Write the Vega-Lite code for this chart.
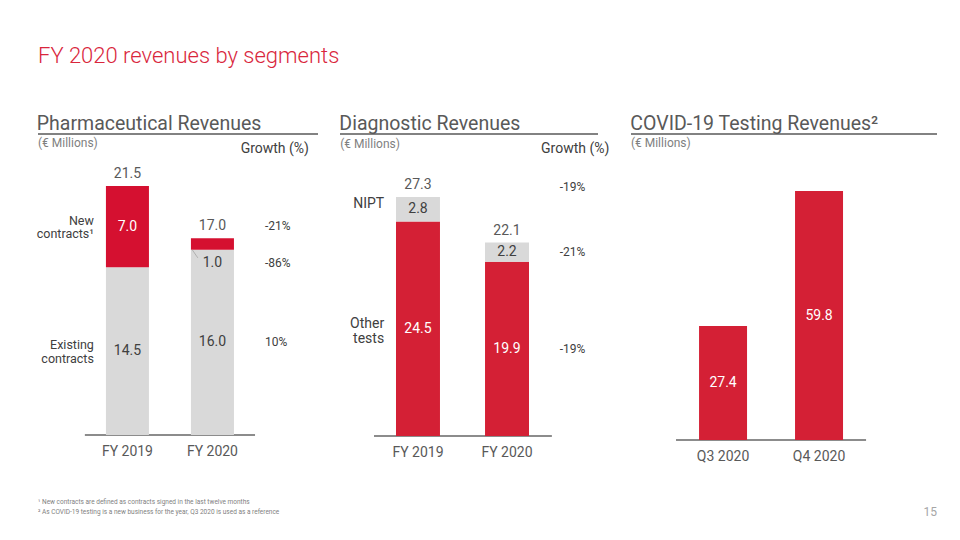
{
  "$schema": "https://vega.github.io/schema/vega-lite/v6.json",
  "background": "white",
  "padding": {"left": 36, "top": 45, "right": 0, "bottom": 0},
  "config": {
    "font": "Roboto",
    "view": {"stroke": null},
    "text": {"font": "Roboto"},
    "title": {"font": "Roboto", "anchor": "start", "fontWeight": "normal", "fontSize": 19.5, "color": "#595959", "offset": -1.5}
  },
  "title": {"text": "FY 2020 revenues by segments", "anchor": "start", "fontSize": 22, "fontWeight": 300, "color": "#d9263c", "offset": 46, "frame": "group"},
  "datasets": {
    "pharma": [
      {"year": "FY 2019", "segment": "Existing contracts", "value": 14.5},
      {"year": "FY 2019", "segment": "New contracts¹", "value": 7.0},
      {"year": "FY 2020", "segment": "Existing contracts", "value": 16.0, "growth": "10%"},
      {"year": "FY 2020", "segment": "New contracts¹", "value": 1.0, "growth": "-86%"}
    ],
    "pharmaTotal": [
      {"year": "FY 2019", "total": 21.5},
      {"year": "FY 2020", "total": 17.0, "growth": "-21%"}
    ],
    "diag": [
      {"year": "FY 2019", "segment": "Other tests", "value": 24.5},
      {"year": "FY 2019", "segment": "NIPT", "value": 2.8},
      {"year": "FY 2020", "segment": "Other tests", "value": 19.9, "growth": "-19%"},
      {"year": "FY 2020", "segment": "NIPT", "value": 2.2, "growth": "-21%"}
    ],
    "diagTotal": [
      {"year": "FY 2019", "total": 27.3},
      {"year": "FY 2020", "total": 22.1, "growth": "-19%"}
    ],
    "covid": [
      {"quarter": "Q3 2020", "value": 27.4},
      {"quarter": "Q4 2020", "value": 59.8}
    ],
    "notes": [
      {"line": 1, "note": "¹ New contracts are defined as contracts signed in the last twelve months"},
      {"line": 2, "note": "² As COVID-19 testing is a new business for the year, Q3 2020 is used as a reference"}
    ],
    "one": [{}]
  },
  "spacing": 34,
  "vconcat": [
    {
      "spacing": 20,
      "resolve": {"scale": {"color": "independent"}},
      "hconcat": [
        {
          "width": 280,
          "height": 301,
          "title": "Pharmaceutical Revenues",
          "layer": [
            {
              "data": {"name": "one"},
              "mark": {"type": "rule", "color": "#595959", "strokeWidth": 1.3},
              "encoding": {"y": {"datum": 26, "type": "quantitative", "axis": null}}
            },
            {
              "data": {"name": "one"},
              "mark": {"type": "rule", "color": "#8c8c8c", "strokeWidth": 2},
              "encoding": {
                "x": {"datum": "FY 2019", "bandPosition": -0.49},
                "x2": {"datum": "FY 2020", "bandPosition": 1.49},
                "y": {"datum": 0, "type": "quantitative", "axis": null}
              }
            },
            {
              "data": {"name": "pharma"},
              "mark": {"type": "bar"},
              "encoding": {
                "x": {"field": "year", "type": "nominal",
                  "scale": {"type": "band", "paddingInner": 0.494, "paddingOuter": 0.894, "align": 0.447},
                  "axis": {"title": null, "domain": false, "ticks": false, "labelAngle": 0, "labelAlign": "center", "bandPosition": 0.5, "labelPadding": 16, "labelFontSize": 14, "labelColor": "#595959", "labelFont": "Roboto"}},
                "y": {"field": "value", "type": "quantitative", "stack": "zero", "scale": {"domain": [0, 26], "nice": false}, "axis": null},
                "color": {"field": "segment", "type": "nominal", "scale": {"domain": ["Existing contracts", "New contracts¹"], "range": ["#d9d9d9", "#d51030"]}, "legend": null},
                "order": {"field": "segment", "sort": "ascending"}
              }
            },
            {
              "data": {"name": "pharma"},
              "mark": {"type": "text", "fontSize": 14, "baseline": "middle"},
              "encoding": {
                "x": {"field": "year", "type": "nominal"},
                "y": {"field": "value", "type": "quantitative", "stack": "zero", "bandPosition": 0.5, "axis": null},
                "order": {"field": "segment", "sort": "ascending"},
                "text": {"condition": {"test": "datum.value < 2", "value": ""}, "field": "value", "type": "quantitative", "format": ".1f"},
                "color": {"condition": {"test": "datum.segment === 'New contracts¹'", "value": "white"}, "value": "#404040"}
              }
            },
            {
              "data": {"name": "pharma"},
              "mark": {"type": "text", "fontSize": 12, "align": "left", "baseline": "middle", "color": "#404040"},
              "encoding": {
                "x": {"field": "year", "type": "nominal", "bandPosition": 1.72},
                "y": {"field": "value", "type": "quantitative", "stack": "zero", "bandPosition": 0.5, "axis": null},
                "order": {"field": "segment", "sort": "ascending"},
                "text": {"condition": {"test": "datum.value < 2 || !isValid(datum.growth)", "value": ""}, "field": "growth", "type": "nominal"}
              }
            },
            {
              "data": {"name": "pharma"},
              "mark": {"type": "text", "fontSize": 12.5, "align": "right", "baseline": "middle", "color": "#404040", "lineBreak": " ", "lineHeight": 13.5, "dy": -6},
              "encoding": {
                "x": {"field": "year", "type": "nominal", "bandPosition": -0.28},
                "y": {"field": "value", "type": "quantitative", "stack": "zero", "bandPosition": 0.5, "axis": null},
                "order": {"field": "segment", "sort": "ascending"},
                "text": {"condition": {"test": "datum.year !== 'FY 2019'", "value": ""}, "field": "segment", "type": "nominal"}
              }
            },
            {
              "data": {"name": "pharma"},
              "transform": [
                {"stack": "value", "groupby": ["year"], "sort": [{"field": "segment", "order": "ascending"}], "as": ["v0", "v1"]},
                {"filter": "datum.value < 2"}
              ],
              "layer": [
                {
                  "mark": {"type": "text", "fontSize": 14, "baseline": "middle", "color": "#404040", "dy": 13},
                  "encoding": {
                    "x": {"field": "year", "type": "nominal"},
                    "y": {"field": "v0", "type": "quantitative", "axis": null},
                    "text": {"field": "value", "type": "quantitative", "format": ".1f"}
                  }
                },
                {
                  "mark": {"type": "text", "fontSize": 12, "align": "left", "baseline": "middle", "color": "#404040", "dy": 13},
                  "encoding": {
                    "x": {"field": "year", "type": "nominal", "bandPosition": 1.72},
                    "y": {"field": "v0", "type": "quantitative", "axis": null},
                    "text": {"field": "growth", "type": "nominal"}
                  }
                },
                {
                  "mark": {"type": "rule", "color": "#a6a6a6", "strokeWidth": 0.8},
                  "encoding": {
                    "x": {"field": "year", "type": "nominal", "bandPosition": 0.03},
                    "x2": {"field": "year", "bandPosition": 0.16},
                    "y": {"field": "v0", "type": "quantitative", "axis": null},
                    "y2": {"datum": 15.3}
                  }
                }
              ]
            },
            {
              "data": {"name": "pharmaTotal"},
              "mark": {"type": "text", "fontSize": 14, "baseline": "bottom", "dy": -5, "color": "#595959"},
              "encoding": {
                "x": {"field": "year", "type": "nominal"},
                "y": {"field": "total", "type": "quantitative", "axis": null},
                "text": {"field": "total", "type": "quantitative", "format": ".1f"}
              }
            },
            {
              "data": {"name": "pharmaTotal"},
              "transform": [{"filter": "isValid(datum.growth)"}],
              "mark": {"type": "text", "fontSize": 12, "align": "left", "baseline": "middle", "dy": -12, "color": "#404040"},
              "encoding": {
                "x": {"field": "year", "type": "nominal", "bandPosition": 1.72},
                "y": {"field": "total", "type": "quantitative", "axis": null},
                "text": {"field": "growth", "type": "nominal"}
              }
            },
            {
              "data": {"name": "one"},
              "mark": {"type": "text", "fontSize": 12, "align": "left", "baseline": "middle", "color": "#7f7f7f"},
              "encoding": {
                "x": {"datum": "FY 2019", "bandPosition": -1.58},
                "y": {"datum": 25.2, "type": "quantitative", "axis": null},
                "text": {"value": "(€ Millions)"}
              }
            },
            {
              "data": {"name": "one"},
              "mark": {"type": "text", "fontSize": 14, "align": "center", "baseline": "middle", "color": "#404040"},
              "encoding": {
                "x": {"datum": "FY 2020", "bandPosition": 1.95},
                "y": {"datum": 24.7, "type": "quantitative", "axis": null},
                "text": {"value": "Growth (%)"}
              }
            }
          ]
        },
        {
          "width": 258,
          "height": 302,
          "title": "Diagnostic Revenues",
          "layer": [
            {
              "data": {"name": "one"},
              "mark": {"type": "rule", "color": "#595959", "strokeWidth": 1.3},
              "encoding": {"y": {"datum": 34.5, "type": "quantitative", "axis": null}}
            },
            {
              "data": {"name": "one"},
              "mark": {"type": "rule", "color": "#8c8c8c", "strokeWidth": 2},
              "encoding": {
                "x": {"datum": "FY 2019", "bandPosition": -0.5},
                "x2": {"datum": "FY 2020", "bandPosition": 1.52},
                "y": {"datum": 0, "type": "quantitative", "axis": null}
              }
            },
            {
              "data": {"name": "diag"},
              "mark": {"type": "bar"},
              "encoding": {
                "x": {"field": "year", "type": "nominal",
                  "scale": {"type": "band", "paddingInner": 0.506, "paddingOuter": 0.702, "align": 0.448},
                  "axis": {"title": null, "domain": false, "ticks": false, "labelAngle": 0, "labelAlign": "center", "bandPosition": 0.5, "labelPadding": 16, "labelFontSize": 14, "labelColor": "#595959", "labelFont": "Roboto"}},
                "y": {"field": "value", "type": "quantitative", "stack": "zero", "scale": {"domain": [0, 34.5], "nice": false}, "axis": null},
                "color": {"field": "segment", "type": "nominal", "scale": {"domain": ["Other tests", "NIPT"], "range": ["#d42035", "#d9d9d9"]}, "legend": null},
                "order": {"field": "segment", "sort": "descending"}
              }
            },
            {
              "data": {"name": "diag"},
              "mark": {"type": "text", "fontSize": 14, "baseline": "middle"},
              "encoding": {
                "x": {"field": "year", "type": "nominal"},
                "y": {"field": "value", "type": "quantitative", "stack": "zero", "bandPosition": 0.5, "axis": null},
                "order": {"field": "segment", "sort": "descending"},
                "text": {"field": "value", "type": "quantitative", "format": ".1f"},
                "color": {"condition": {"test": "datum.segment === 'Other tests'", "value": "white"}, "value": "#404040"}
              }
            },
            {
              "data": {"name": "diag"},
              "mark": {"type": "text", "fontSize": 12, "align": "left", "baseline": "middle", "color": "#404040"},
              "encoding": {
                "x": {"field": "year", "type": "nominal", "bandPosition": 1.7},
                "y": {"field": "value", "type": "quantitative", "stack": "zero", "bandPosition": 0.5, "axis": null},
                "order": {"field": "segment", "sort": "descending"},
                "text": {"condition": {"test": "!isValid(datum.growth)", "value": ""}, "field": "growth", "type": "nominal"}
              }
            },
            {
              "data": {"name": "diag"},
              "mark": {"type": "text", "fontSize": 14, "align": "right", "baseline": "middle", "color": "#404040", "lineBreak": " ", "lineHeight": 15, "dy": -5},
              "encoding": {
                "x": {"field": "year", "type": "nominal", "bandPosition": -0.27},
                "y": {"field": "value", "type": "quantitative", "stack": "zero", "bandPosition": 0.5, "axis": null},
                "order": {"field": "segment", "sort": "descending"},
                "text": {"condition": {"test": "datum.year !== 'FY 2019'", "value": ""}, "field": "segment", "type": "nominal"}
              }
            },
            {
              "data": {"name": "diagTotal"},
              "mark": {"type": "text", "fontSize": 14, "baseline": "bottom", "dy": -5, "color": "#595959"},
              "encoding": {
                "x": {"field": "year", "type": "nominal"},
                "y": {"field": "total", "type": "quantitative", "axis": null},
                "text": {"field": "total", "type": "quantitative", "format": ".1f"}
              }
            },
            {
              "data": {"name": "diagTotal"},
              "transform": [
                {"joinaggregate": [{"op": "max", "field": "total", "as": "maxTotal"}]},
                {"filter": "isValid(datum.growth)"}
              ],
              "mark": {"type": "text", "fontSize": 12, "align": "left", "baseline": "middle", "dy": -10, "color": "#404040"},
              "encoding": {
                "x": {"field": "year", "type": "nominal", "bandPosition": 1.7},
                "y": {"field": "maxTotal", "type": "quantitative", "axis": null},
                "text": {"field": "growth", "type": "nominal"}
              }
            },
            {
              "data": {"name": "one"},
              "mark": {"type": "text", "fontSize": 12, "align": "left", "baseline": "middle", "color": "#7f7f7f"},
              "encoding": {
                "x": {"datum": "FY 2019", "bandPosition": -1.27},
                "y": {"datum": 33.4, "type": "quantitative", "axis": null},
                "text": {"value": "(€ Millions)"}
              }
            },
            {
              "data": {"name": "one"},
              "mark": {"type": "text", "fontSize": 14, "align": "center", "baseline": "middle", "color": "#404040"},
              "encoding": {
                "x": {"datum": "FY 2020", "bandPosition": 2.05},
                "y": {"datum": 32.8, "type": "quantitative", "axis": null},
                "text": {"value": "Growth (%)"}
              }
            }
          ]
        },
        {
          "width": 306,
          "height": 306,
          "title": "COVID-19 Testing Revenues²",
          "layer": [
            {
              "data": {"name": "one"},
              "mark": {"type": "rule", "color": "#595959", "strokeWidth": 1.3},
              "encoding": {"y": {"datum": 73.5, "type": "quantitative", "axis": null}}
            },
            {
              "data": {"name": "one"},
              "mark": {"type": "rule", "color": "#8c8c8c", "strokeWidth": 2},
              "encoding": {
                "x": {"datum": "Q3 2020", "bandPosition": -0.48},
                "x2": {"datum": "Q4 2020", "bandPosition": 1.48},
                "y": {"datum": 0, "type": "quantitative", "axis": null}
              }
            },
            {
              "data": {"name": "covid"},
              "mark": {"type": "bar", "color": "#d42035"},
              "encoding": {
                "x": {"field": "quarter", "type": "nominal",
                  "scale": {"type": "band", "paddingInner": 0.5, "paddingOuter": 0.844, "align": 0.42},
                  "axis": {"title": null, "domain": false, "ticks": false, "labelAngle": 0, "labelAlign": "center", "bandPosition": 0.5, "labelPadding": 16, "labelFontSize": 14, "labelColor": "#595959", "labelFont": "Roboto"}},
                "y": {"field": "value", "type": "quantitative", "scale": {"domain": [0, 73.5], "nice": false}, "axis": null}
              }
            },
            {
              "data": {"name": "covid"},
              "mark": {"type": "text", "fontSize": 14, "baseline": "middle", "color": "white"},
              "encoding": {
                "x": {"field": "quarter", "type": "nominal"},
                "y": {"field": "value", "type": "quantitative", "stack": "zero", "bandPosition": 0.5, "axis": null},
                "text": {"field": "value", "type": "quantitative", "format": ".1f"}
              }
            },
            {
              "data": {"name": "one"},
              "mark": {"type": "text", "fontSize": 12, "align": "left", "baseline": "middle", "color": "#7f7f7f"},
              "encoding": {
                "x": {"datum": "Q3 2020", "bandPosition": -1.42},
                "y": {"datum": 71.4, "type": "quantitative", "axis": null},
                "text": {"value": "(€ Millions)"}
              }
            }
          ]
        }
      ]
    },
    {
      "width": 899,
      "height": 20,
      "layer": [
        {
          "data": {"name": "notes"},
          "mark": {"type": "text", "align": "left", "baseline": "middle", "fontSize": 6.5, "color": "#7f7f7f"},
          "encoding": {
            "x": {"datum": 0, "type": "quantitative", "scale": {"domain": [0, 1]}, "axis": null},
            "y": {"field": "line", "type": "ordinal", "axis": null},
            "text": {"field": "note", "type": "nominal"}
          }
        },
        {
          "data": {"name": "one"},
          "mark": {"type": "text", "align": "right", "baseline": "middle", "fontSize": 12, "color": "#a6a6a6"},
          "encoding": {
            "x": {"datum": 1, "type": "quantitative", "axis": null},
            "y": {"datum": 2, "type": "ordinal", "axis": null},
            "text": {"value": "15"}
          }
        }
      ]
    }
  ]
}
